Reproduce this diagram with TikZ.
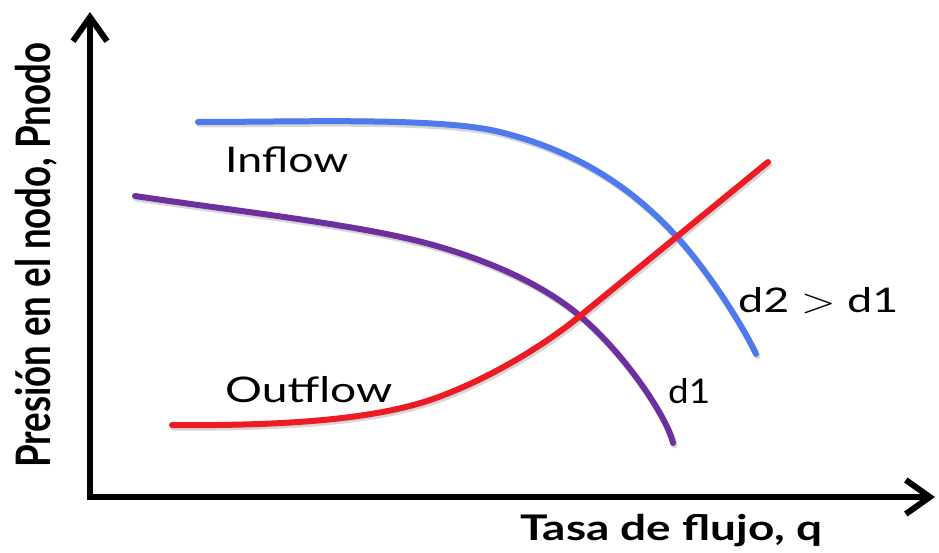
\documentclass[tikz,border=0pt]{standalone}
\usepackage{fontspec}
\usepackage{graphicx}
\setmainfont{Lato}
\usetikzlibrary{arrows.meta}
\definecolor{inblue}{RGB}{78,122,238}
\definecolor{dpurple}{RGB}{110,48,158}
\definecolor{outred}{RGB}{237,28,36}
\tikzset{
  axisline/.style={line width=6pt, line join=miter,
     {Straight Barb[length=24pt,width=34pt,line width=6pt]}-{Straight Barb[length=24pt,width=34pt,line width=6pt]}},
  curve/.style={line width=6pt, line cap=round},
  shadowc/.style={line width=6pt, line cap=round, black, opacity=0.16, shift={(1.5,2.5)}},
  lbl/.style={inner sep=0pt, anchor=base west},
}
\newcommand{\fitlabel}[3]{\resizebox{#1}{#2}{\smash{#3}\vphantom{d}}}
\newcommand{\bluepath}{(198,122) .. controls (300,122) and (440,117) .. (500,132)
   .. controls (570,149.5) and (627,182) .. (677,237)
   .. controls (707,270) and (741,322.5) .. (756,354)}
\newcommand{\purplepath}{(135,196) .. controls (235,211) and (363,225) .. (433,245)
   .. controls (483,259) and (540,282) .. (580,316)
   .. controls (625,354) and (667,417) .. (673,443)}
\newcommand{\redpath}{(172,425) .. controls (280,426) and (373,420) .. (433,399)
   .. controls (483,381.5) and (540,348.8) .. (580,316) -- (768,162)}
\begin{document}
\begin{tikzpicture}[x=1pt,y=-1pt]
\useasboundingbox (0,0) rectangle (939,553);
% axes
\coordinate (ytip) at (90,12);
\coordinate (orig) at (90,497);
\coordinate (xtip) at (935,497);
\draw[axisline] (ytip) -- (orig) -- (xtip);
% curve shadows
\draw[shadowc] \bluepath;
\draw[shadowc] \purplepath;
\draw[shadowc] \redpath;
% curves
\draw[curve,inblue] \bluepath;
\draw[curve,dpurple] \purplepath;
\draw[curve,outred] \redpath;
% labels
\node[lbl] (inflow) at (225,173) {\fitlabel{123pt}{26pt}{Inflow}};
\node[lbl] (outflow) at (225,402) {\fitlabel{167pt}{26pt}{Outflow}};
\node[lbl] (d2) at (738,312) {\fitlabel{160pt}{25pt}{d2 $>$ d1}};
\node[lbl] (d1) at (668,403) {\fitlabel{42pt}{25pt}{d1}};
\node[lbl] (xlab) at (520,540) {\fitlabel{302pt}{26pt}{\bfseries Tasa de flujo, q}};
\node[lbl, rotate=90] (ylab) at (50,468) {\fitlabel{425pt}{35pt}{\bfseries Presión en el nodo, Pnodo}};
\end{tikzpicture}
\end{document}
